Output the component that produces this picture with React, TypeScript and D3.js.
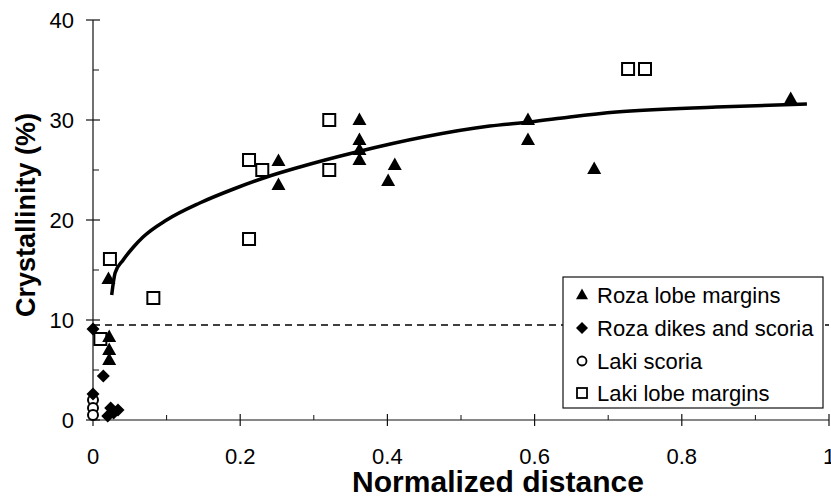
import React from "react";
import * as d3 from "d3";

const W = 831;
const H = 503;

const rozaLobe: [number, number][] = [
  [0.021, 14.1], [0.022, 8.3], [0.022, 7.0], [0.022, 6.0],
  [0.252, 25.9], [0.252, 23.5], [0.362, 30.0], [0.362, 28.0], [0.362, 27.0], [0.362, 26.0],
  [0.41, 25.5], [0.401, 23.9], [0.591, 30.0], [0.591, 28.0], [0.681, 25.1], [0.948, 32.1],
];
const rozaDikes: [number, number][] = [
  [0, 9.1], [0.014, 4.4], [0, 2.6], [0.02, 0.4], [0.024, 1.2], [0.028, 0.7], [0.034, 1.0],
];
const lakiScoria: [number, number][] = [
  [0, 2.0], [0, 1.2], [0, 0.5],
];
const lakiLobe: [number, number][] = [
  [0.01, 8.1], [0.023, 16.1], [0.082, 12.2], [0.212, 18.1], [0.212, 26.0], [0.23, 25.0],
  [0.321, 30.0], [0.321, 25.0], [0.727, 35.1], [0.75, 35.1],
];
const trend: [number, number][] = [
  [0.0254, 12.5], [0.03, 14.7], [0.041, 16.0], [0.055, 17.3], [0.068, 18.3], [0.1, 20.0],
  [0.145, 21.7], [0.191, 23.1], [0.236, 24.3], [0.281, 25.3], [0.358, 26.8], [0.449, 28.3],
  [0.539, 29.4], [0.594, 29.8], [0.648, 30.3], [0.711, 30.8], [0.847, 31.3], [0.97, 31.6],
];
const threshold = 9.5;
const xTicks = [0, 0.2, 0.4, 0.6, 0.8, 1];
const xTickLabels = ["0", "0.2", "0.4", "0.6", "0.8", "1"];
const xMinor = [0.1, 0.3, 0.5, 0.7, 0.9];
const yTicks = [0, 10, 20, 30, 40];
const yMinor = [5, 15, 25, 35];
const legendItems = ["Roza lobe margins", "Roza dikes and scoria", "Laki scoria", "Laki lobe margins"];

const FONT = "'Liberation Sans', Arial, sans-serif";

function tri(cx: number, cy: number, w: number) {
  const h = w * 0.9;
  return `M${cx},${cy - h * 0.6}L${cx + w / 2},${cy + h * 0.4}L${cx - w / 2},${cy + h * 0.4}Z`;
}
function dia(cx: number, cy: number, r: number) {
  return `M${cx},${cy - r}L${cx + r},${cy}L${cx},${cy + r}L${cx - r},${cy}Z`;
}

export default function App() {
  const x = d3.scaleLinear().domain([0, 1]).range([93, 829]);
  const y = d3.scaleLinear().domain([0, 40]).range([420, 20]);
  const line = d3
    .line<[number, number]>()
    .x((d) => x(d[0]))
    .y((d) => y(d[1]))
    .curve(d3.curveMonotoneX);

  const lx = 563, ly = 277, lw = 260, lh = 131;
  const rowY = [295, 328, 361, 393];

  return (
    <svg width={W} height={H} style={{ position: "absolute", left: 0, top: 0, background: "#fff" }}>
      <rect x={0} y={0} width={W} height={H} fill="#fff" />
      {/* axes */}
      <line x1={x(0)} x2={x(0)} y1={y(40)} y2={y(0)} stroke="#111" strokeWidth={1.2} />
      <line x1={x(0)} x2={x(1)} y1={y(0)} y2={y(0)} stroke="#111" strokeWidth={1.2} />
      {yTicks.map((t) => (
        <g key={"yt" + t}>
          <line x1={x(0) - 7} x2={x(0) + 7} y1={y(t)} y2={y(t)} stroke="#111" strokeWidth={1.2} />
          <text x={74} y={y(t) + 8} textAnchor="end" fontFamily={FONT} fontSize={22} fill="#000">
            {t}
          </text>
        </g>
      ))}
      {yMinor.map((t) => (
        <line key={"ym" + t} x1={x(0)} x2={x(0) + 6} y1={y(t)} y2={y(t)} stroke="#111" strokeWidth={1} />
      ))}
      {xTicks.map((t, i) => (
        <g key={"xt" + t}>
          <line x1={x(t)} x2={x(t)} y1={y(0) - 6} y2={y(0) + 6} stroke="#111" strokeWidth={1.2} />
          <text x={x(t)} y={464} textAnchor="middle" fontFamily={FONT} fontSize={22} fill="#000">
            {xTickLabels[i]}
          </text>
        </g>
      ))}
      {xMinor.map((t) => (
        <line key={"xm" + t} x1={x(t)} x2={x(t)} y1={y(0) - 5} y2={y(0)} stroke="#111" strokeWidth={1} />
      ))}
      {/* axis titles */}
      <text
        transform={`translate(35,215) rotate(-90)`}
        textAnchor="middle"
        fontFamily={FONT}
        fontWeight="bold"
        fontSize={27}
        fill="#000"
      >
        Crystallinity (%)
      </text>
      <text x={498} y={492} textAnchor="middle" fontFamily={FONT} fontWeight="bold" fontSize={30} fill="#000">
        Normalized distance
      </text>
      {/* dashed threshold */}
      <line x1={x(0)} x2={x(1)} y1={y(threshold)} y2={y(threshold)} stroke="#000" strokeWidth={1.3} strokeDasharray="7,5" />
      {/* trend curve */}
      <path d={line(trend) || ""} fill="none" stroke="#000" strokeWidth={3.5} />
      {/* points */}
      {lakiLobe.map((d, i) => (
        <rect key={"ll" + i} x={x(d[0]) - 6} y={y(d[1]) - 6} width={12} height={12} fill="#fff" stroke="#000" strokeWidth={2} />
      ))}
      {lakiScoria.map((d, i) => (
        <circle key={"ls" + i} cx={x(d[0])} cy={y(d[1])} r={5} fill="#fff" stroke="#000" strokeWidth={2} />
      ))}
      {rozaDikes.map((d, i) => (
        <path key={"rd" + i} d={dia(x(d[0]), y(d[1]), 6.5)} fill="#000" />
      ))}
      {rozaLobe.map((d, i) => (
        <path key={"rl" + i} d={tri(x(d[0]), y(d[1]), 14)} fill="#000" />
      ))}
      {/* legend */}
      <rect x={lx} y={ly} width={lw} height={lh} fill="#fff" stroke="#111" strokeWidth={1.2} />
      <path d={tri(582, rowY[0], 12)} fill="#000" />
      <path d={dia(582, rowY[1], 6)} fill="#000" />
      <circle cx={582} cy={rowY[2]} r={4.5} fill="#fff" stroke="#000" strokeWidth={1.8} />
      <rect x={577} y={rowY[3] - 5} width={10} height={10} fill="#fff" stroke="#000" strokeWidth={1.8} />
      {legendItems.map((t, i) => (
        <text key={t} x={597} y={rowY[i] + 8} fontFamily={FONT} fontSize={22} fill="#000">
          {t}
        </text>
      ))}
    </svg>
  );
}
